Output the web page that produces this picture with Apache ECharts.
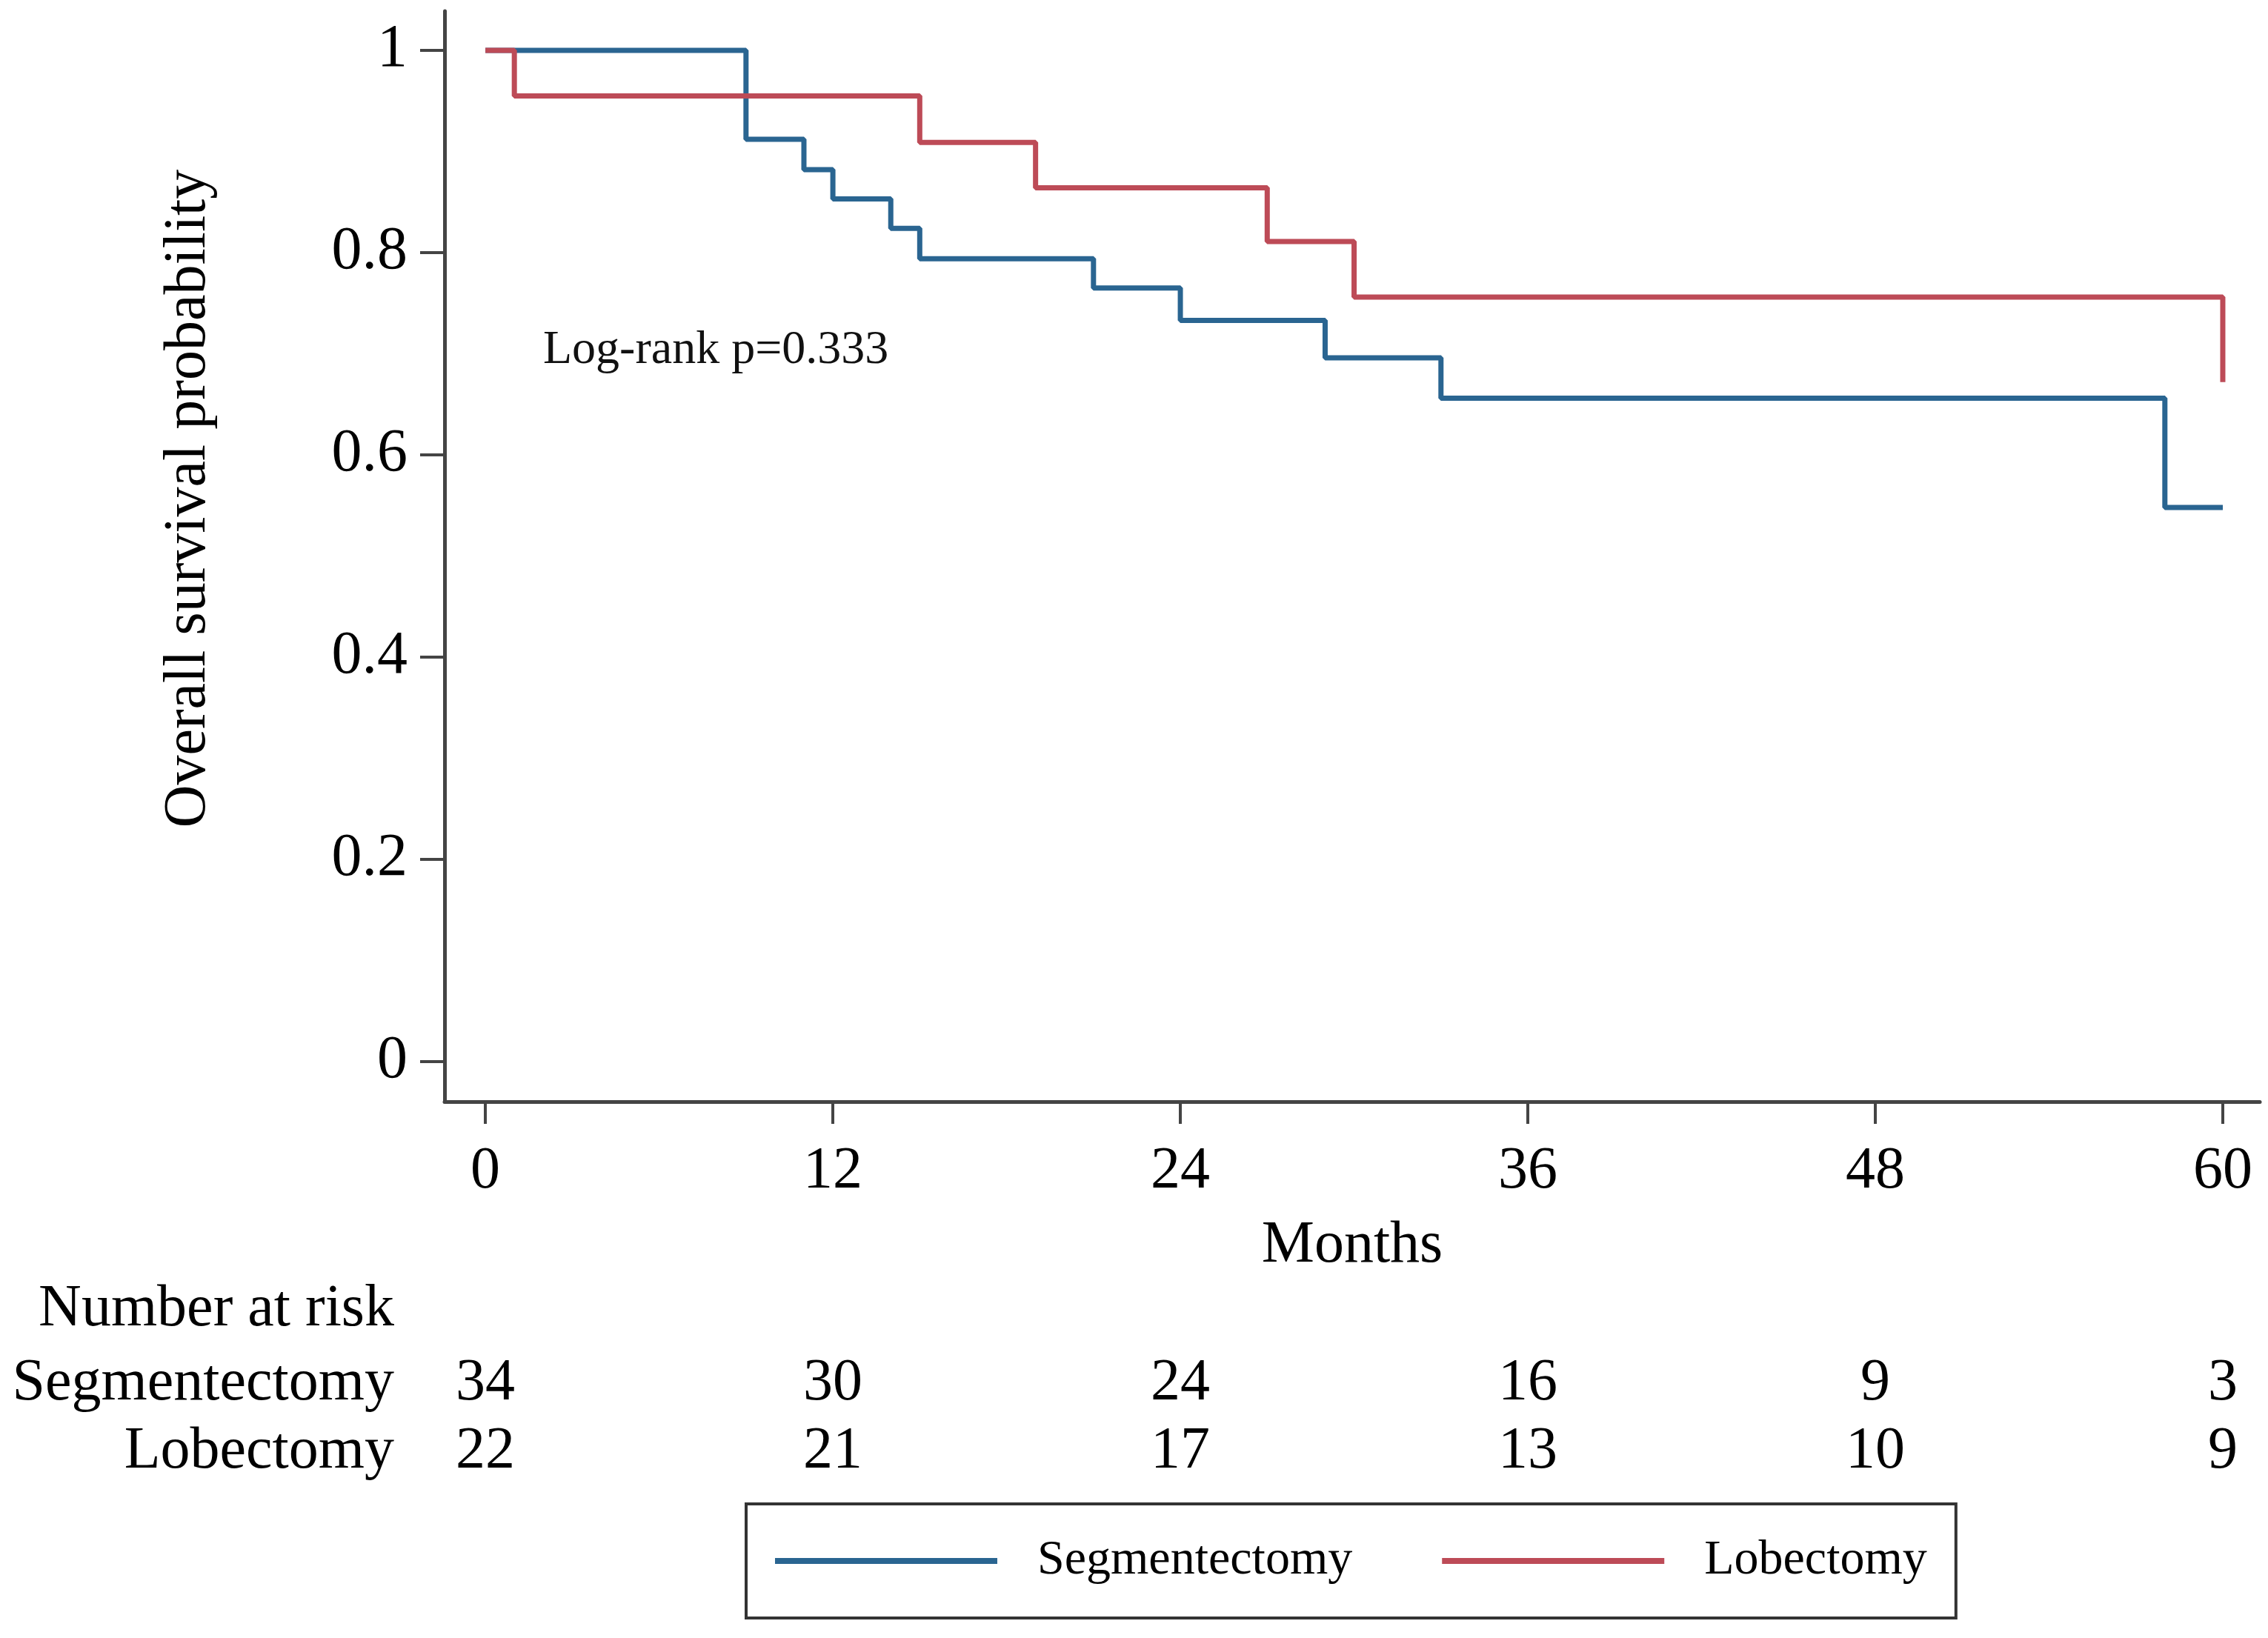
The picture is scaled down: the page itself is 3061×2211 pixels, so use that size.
<!DOCTYPE html>
<html>
<head>
<meta charset="utf-8">
<script src="https://cdn.jsdelivr.net/npm/echarts@6/dist/echarts.min.js"></script>
<style>html,body{margin:0;padding:0;background:#fff;}#c{width:3061px;height:2211px;}</style>
</head>
<body>
<div id="c"></div>
<script>
// Kaplan-Meier step data (months, survival)
const segTimes = [0, 9, 11, 12, 14, 15, 21, 24, 29, 33, 58, 60];
const segSurv  = [1, 0.912, 0.882, 0.853, 0.824, 0.794, 0.765, 0.733, 0.696, 0.656, 0.548, 0.548];
const lobTimes = [0, 1, 15, 19, 27, 30, 60];
const lobSurv  = [1, 0.955, 0.909, 0.864, 0.811, 0.756, 0.756];
const lobEndTimes = [60, 60];
const lobEndSurv = [0.756, 0.672];
// Number at risk
const riskTimes = [0, 12, 24, 36, 48, 60];
const riskSeg = [34, 30, 24, 16, 9, 3];
const riskLob = [22, 21, 17, 13, 10, 9];
const groups = ['Segmentectomy', 'Lobectomy'];
const xTicks = [0, 12, 24, 36, 48, 60];
const yTicks = [0, 0.2, 0.4, 0.6, 0.8, 1];

const FONT = '"Liberation Serif", "Times New Roman", serif';
const BLUE = '#2a6591';
const RED = '#bd4b57';
const AX = '#444';

const segData = segTimes.map((t, i) => [t, segSurv[i]]);
const lobData = lobTimes.map((t, i) => [t, lobSurv[i]]).concat([[lobEndTimes[1], lobEndSurv[1]]]);
const riskData = [];
riskTimes.forEach((t, i) => {
  riskData.push([t, groups[0], riskSeg[i]]);
  riskData.push([t, groups[1], riskLob[i]]);
});

const chart = echarts.init(document.getElementById('c'), null, {renderer: 'canvas'});
chart.setOption({
  backgroundColor: '#fff',
  animation: false,
  textStyle: {fontFamily: FONT},
  grid: [
    {left: 600, top: 15, width: 2450, height: 1472, containLabel: false},
    {left: 600, top: 1822, width: 2450, height: 184, containLabel: false}
  ],
  xAxis: [
    {
      type: 'value', gridIndex: 0, min: -1.41, max: 61.28,
      name: 'Months', nameLocation: 'middle', nameGap: 155,
      nameTextStyle: {fontFamily: FONT, fontSize: 80, color: '#000'},
      axisLine: {show: true, onZero: false, lineStyle: {color: AX, width: 5}},
      axisTick: {show: true, length: 30, lineStyle: {color: AX, width: 4}, customValues: xTicks},
      axisLabel: {show: true, fontFamily: FONT, fontSize: 80, color: '#000', margin: 55, customValues: xTicks},
      splitLine: {show: false}
    },
    {
      type: 'value', gridIndex: 1, min: -1.41, max: 61.28, show: false
    }
  ],
  yAxis: [
    {
      type: 'value', gridIndex: 0, min: -0.0396, max: 1.0388,
      name: 'Overall survival probability', nameLocation: 'middle', nameGap: 305, nameRotate: 90,
      nameTextStyle: {fontFamily: FONT, fontSize: 80, color: '#000', padding: [0, 0, 0, 156]},
      axisLine: {show: true, onZero: false, lineStyle: {color: AX, width: 5}},
      axisTick: {show: true, length: 33, lineStyle: {color: AX, width: 4}, customValues: yTicks},
      axisLabel: {show: true, fontFamily: FONT, fontSize: 82, color: '#000', margin: 50, customValues: yTicks,
        formatter: v => String(v)},
      splitLine: {show: false}
    },
    {
      type: 'category', gridIndex: 1, data: groups, inverse: true,
      axisLine: {show: false}, axisTick: {show: false}, splitLine: {show: false},
      axisLabel: {fontFamily: FONT, fontSize: 80, color: '#000', margin: 68, interval: 0, hideOverlap: false}
    }
  ],
  legend: {
    data: ['Segmentectomy', 'Lobectomy'],
    left: 1007, top: 2030,
    orient: 'horizontal',
    icon: 'rect', itemWidth: 300, itemHeight: 8, itemGap: 121,
    padding: [42, 39, 42, 39],
    borderColor: '#333', borderWidth: 4,
    textStyle: {fontFamily: FONT, fontSize: 66, color: '#000', padding: [0, 0, 0, 49], lineHeight: 70},
    selectedMode: false
  },
  graphic: [
    {type: 'text', left: 733, top: 479 - 38, style: {text: 'Log-rank p=0.333', font: '64px ' + FONT, fill: '#111'}},
    {type: 'text', right: 3061 - 532, top: 1770 - 42, style: {text: 'Number at risk', font: '80px ' + FONT, fill: '#000', textAlign: 'right'}}
  ],
  series: [
    {
      name: 'Segmentectomy', type: 'line', xAxisIndex: 0, yAxisIndex: 0, step: 'end',
      data: segData, symbol: 'none', lineStyle: {color: BLUE, width: 7}, itemStyle: {color: BLUE}, z: 2
    },
    {
      name: 'Lobectomy', type: 'line', xAxisIndex: 0, yAxisIndex: 0, step: 'end',
      data: lobData, symbol: 'none', lineStyle: {color: RED, width: 7}, itemStyle: {color: RED}, z: 3
    },
    {
      name: 'risk', type: 'scatter', xAxisIndex: 1, yAxisIndex: 1,
      data: riskData, symbolSize: 0, silent: true,
      label: {show: true, position: 'inside', formatter: p => String(p.value[2]),
        fontFamily: FONT, fontSize: 80, color: '#000', opacity: 1}
    }
  ]
});
</script>
</body>
</html>
